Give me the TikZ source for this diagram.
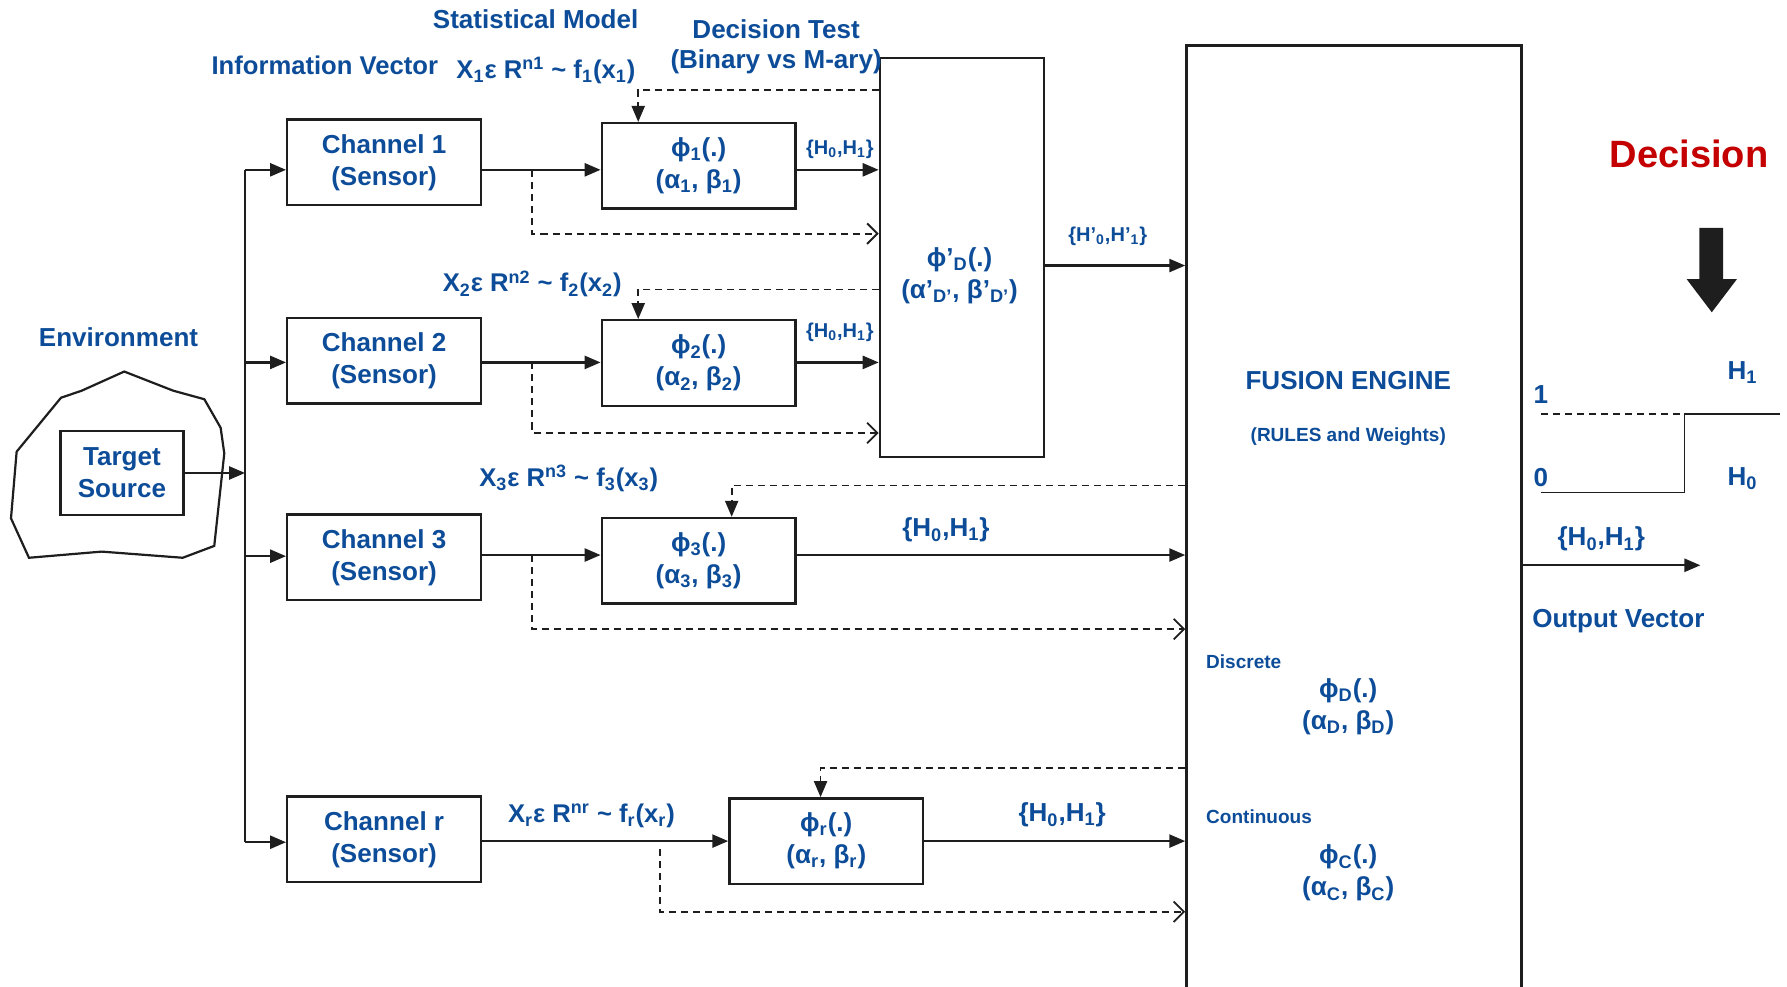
\documentclass[tikz,border=0pt]{standalone}
\usepackage{fontspec}
\setmainfont{Liberation Sans}
\usetikzlibrary{arrows.meta,calc}
\definecolor{tblue}{RGB}{12,76,152}
\definecolor{tred}{RGB}{196,0,0}
\definecolor{tdark}{RGB}{30,30,30}
\newcommand{\mysub}[1]{\textsubscript{#1}}
\newcommand{\mysup}[1]{\textsuperscript{#1}}
\begin{document}
\begin{tikzpicture}[x=0.02cm,y=-0.02cm,
  txt/.style={text=tblue,font=\fontsize{13}{16}\selectfont\bfseries,inner sep=0pt,align=center},
  sm/.style={text=tblue,font=\fontsize{10}{12}\selectfont\bfseries,inner sep=0pt,align=center},
  mid/.style={text=tblue,font=\fontsize{10}{12}\selectfont\bfseries,inner sep=0pt,align=center},
  lbl/.style={txt,font=\fontsize{12.8}{15}\selectfont\bfseries},
  box/.style={draw=tdark,line width=1.2pt,text=tblue,font=\fontsize{13}{16}\selectfont\bfseries,align=center,minimum width=3.4cm,minimum height=1.5cm,inner sep=0pt},
  ln/.style={draw=tdark,line width=1.1pt},
  thin/.style={draw=tdark,line width=0.8pt},
  arr/.style={ln,-{Triangle[length=0.28cm,width=0.23cm]}},
  dsh/.style={draw=tdark,line width=0.9pt,dash pattern=on 3.5pt off 2.5pt},
  darr/.style={dsh,-{Triangle[length=0.28cm,width=0.23cm]}},
  oarr/.style={dsh,-{Straight Barb[length=0.18cm,width=0.36cm]}},
]
\useasboundingbox (0,0) rectangle (1568,866);

% ---------- environment ----------
\draw[ln] (109,326) -- (71.7,342.8) -- (53.5,349) -- (14.6,396.3) -- (9.65,454.8) -- (25.4,489.4) -- (89.2,484) -- (160.3,489.4) -- (188,479) -- (196.8,397.8) -- (193.6,375.3) -- (179.3,350.3) -- (152,342.8) -- cycle;
\node[txt] (env) at (104,296) {Environment};
\node[box,minimum width=2.16cm,minimum height=1.48cm] (ts) at (107,415) {Target\\Source};

% ---------- channels ----------
\node[box] (ch1) at (337,142.5) {Channel 1\\(Sensor)};
\node[box] (ch2) at (337,316.5) {Channel 2\\(Sensor)};
\node[box] (ch3) at (337,489) {Channel 3\\(Sensor)};
\node[box] (chr) at (337,736.5) {Channel r\\(Sensor)};

% ---------- local detectors ----------
\node[box] (phi1) at (613,145.5) {ϕ\mysub{1}(.)\\(α\mysub{1}, β\mysub{1})};
\node[box] (phi2) at (613,318.5) {ϕ\mysub{2}(.)\\(α\mysub{2}, β\mysub{2})};
\node[box] (phi3) at (613,492) {ϕ\mysub{3}(.)\\(α\mysub{3}, β\mysub{3})};
\node[box] (phir) at (725,738) {ϕ\mysub{r}(.)\\(α\mysub{r}, β\mysub{r})};

% ---------- decision test box ----------
\node[box,minimum width=2.88cm,minimum height=7cm] (pd) at (844,226) {};
\node[txt] (pdt) at (842,242) {ϕ’\mysub{D}(.)\\(α’\mysub{D’}, β’\mysub{D’})};

% ---------- fusion engine ----------
\node[draw=tdark,line width=1.2pt,minimum width=5.88cm,minimum height=18cm,inner sep=0pt] (fe) at (1188,490) {};
\node[txt] (fet) at (1183,334) {FUSION ENGINE};
\node[sm,font=\fontsize{9.5}{12}\selectfont\bfseries] (few) at (1183,383) {(RULES and Weights)};
\node[sm,font=\fontsize{9.5}{12}\selectfont\bfseries,anchor=west] (disc) at (1058,581) {Discrete};
\node[txt] (phd) at (1183,620) {ϕ\mysub{D}(.)\\(α\mysub{D}, β\mysub{D})};
\node[sm,font=\fontsize{9.5}{12}\selectfont\bfseries,anchor=west] (cont) at (1058,717) {Continuous};
\node[txt] (phc) at (1183,766) {ϕ\mysub{C}(.)\\(α\mysub{C}, β\mysub{C})};

% ---------- top labels ----------
\node[txt] (stm) at (470,17) {Statistical Model};
\node[txt] (dt) at (681,26) {Decision Test};
\node[txt] (bm) at (681,54) {(Binary vs M-ary)};
\node[lbl] (iv) at (285,57) {Information Vector};
\node[lbl] (x1) at (479,62) {X\mysub{1}ε R\mysup{n1} \textasciitilde{} f\mysub{1}(x\mysub{1})};
\node[lbl] (x2) at (467,249) {X\mysub{2}ε R\mysup{n2} \textasciitilde{} f\mysub{2}(x\mysub{2})};
\node[lbl] (x3) at (499,420) {X\mysub{3}ε R\mysup{n3} \textasciitilde{} f\mysub{3}(x\mysub{3})};
\node[lbl] (xr) at (519,716) {X\mysub{r}ε R\mysup{nr} \textasciitilde{} f\mysub{r}(x\mysub{r})};

% ---------- bus ----------
\coordinate (b1) at (215,149);
\coordinate (b2) at (215,318);
\coordinate (b3) at (215,488);
\coordinate (br) at (215,739);
\coordinate (bm) at (215,415);
\draw[ln] (b1) -- (br);
\draw[arr] (ts.east) -- (bm);
\draw[arr] (b1) -- (ch1.west |- b1);
\draw[arr] (b2) -- (ch2.west |- b2);
\draw[arr] (b3) -- (ch3.west |- b3);
\draw[arr] (br) -- (chr.west |- br);

% ---------- row 1 ----------
\draw[arr] (ch1.east |- b1) -- (phi1.west |- b1);
\draw[arr] (phi1.east |- b1) -- (pd.west |- b1);
\node[sm] (h1) at (737,131) {\{H\mysub{0},H\mysub{1}\}};
\coordinate (s1) at (467,149); \coordinate (e1) at (467,205);
\draw[oarr] (s1) -- (e1) -- (pd.west |- e1);
\coordinate (f1) at (560,79);
\draw[darr] (pd.west |- f1) -- (f1) -- (phi1.north -| f1);

% ---------- row 2 ----------
\draw[arr] (ch2.east |- b2) -- (phi2.west |- b2);
\draw[arr] (phi2.east |- b2) -- (pd.west |- b2);
\node[sm] (h2) at (737,292) {\{H\mysub{0},H\mysub{1}\}};
\coordinate (s2) at (467,318); \coordinate (e2) at (467,380);
\draw[oarr] (s2) -- (e2) -- (pd.west |- e2);
\coordinate (f2) at (560,254);
\draw[darr] (pd.west |- f2) -- (f2) -- (phi2.north -| f2);

% ---------- decision test to fusion ----------
\coordinate (q) at (0,233);
\draw[arr] (pd.east |- q) -- (fe.west |- q);
\node[mid] (hp) at (972,207) {\{H’\mysub{0},H’\mysub{1}\}};

% ---------- row 3 ----------
\coordinate (r3) at (0,487);
\draw[arr] (ch3.east |- r3) -- (phi3.west |- r3);
\draw[arr] (phi3.east |- r3) -- (fe.west |- r3);
\node[txt] (h3) at (830,465) {\{H\mysub{0},H\mysub{1}\}};
\coordinate (s3) at (467,487); \coordinate (e3) at (467,552);
\draw[oarr] (s3) -- (e3) -- (fe.west |- e3);
\coordinate (f3) at (642,426);
\draw[darr] (fe.west |- f3) -- (f3) -- (phi3.north -| f3);

% ---------- row r ----------
\coordinate (rr) at (0,738);
\draw[arr] (chr.east |- rr) -- (phir.west |- rr);
\draw[arr] (phir.east |- rr) -- (fe.west |- rr);
\node[txt] (hr) at (932,715) {\{H\mysub{0},H\mysub{1}\}};
\coordinate (sr) at (579,745); \coordinate (er) at (579,800);
\draw[oarr] (sr) -- (er) -- (fe.west |- er);
\coordinate (fr) at (720,674);
\draw[darr] (fe.west |- fr) -- (fr) -- (phir.north -| fr);

% ---------- output ----------
\coordinate (o) at (1492,496);
\draw[arr] (fe.east |- o) -- (o);
\node[txt] (ho) at (1405,473) {\{H\mysub{0},H\mysub{1}\}};
\node[txt] (ov) at (1420,545) {Output Vector};

% ---------- decision ----------
\node[txt,text=tred,font=\fontsize{19}{22}\selectfont\bfseries] (dec) at (1482,135) {Decision};
\fill[tdark] (1491,200) -- (1512,200) -- (1512,245) -- (1524,245) -- (1502,274) -- (1480,245) -- (1491,245) -- cycle;

% ---------- step ----------
\coordinate (p1) at (1352,363); \coordinate (p2) at (1478,363);
\coordinate (p3) at (1562,363); \coordinate (p4) at (1478,432);
\coordinate (p5) at (1352,432);
\draw[dsh,line width=0.8pt] (p1) -- (p2);
\draw[thin] (p3) -- (p2) -- (p4) -- (p5);
\node[txt] (one) at (1352,346) {1};
\node[txt] (zero) at (1352,419) {0};
\node[txt] (hh1) at (1529,327) {H\mysub{1}};
\node[txt] (hh0) at (1529,420) {H\mysub{0}};
\end{tikzpicture}
\end{document}
